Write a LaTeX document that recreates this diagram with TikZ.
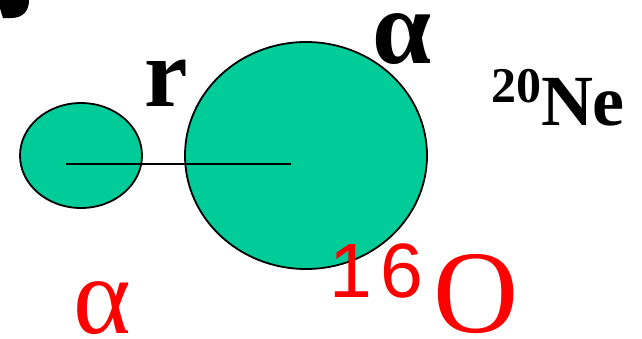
\documentclass[tikz,border=0pt]{standalone}
\usepackage{fontspec}
\setmainfont{Liberation Serif}
\newfontfamily\arialfont{Liberation Sans}
\usetikzlibrary{shapes.geometric,positioning}
\definecolor{nucgreen}{RGB}{0,204,153}
\definecolor{labred}{RGB}{255,0,0}
\tikzset{
  nucleus/.style={ellipse, draw=black, line width=1.8pt, fill=nucgreen, inner sep=0pt},
  lbl/.style={anchor=base west, inner sep=0pt, outer sep=0pt}
}

\begin{document}
\begin{tikzpicture}[x=1pt, y=-1pt]
\useasboundingbox (0,0) rectangle (642,338);
% cut-off glyph in the corner
\fill (0,0) -- (29,0) .. controls (29,11) and (23,18) .. (11,18) -- (3,18) .. controls (1,12) .. (0,8) -- cycle;
% the two clusters
\node[nucleus, minimum width=242pt, minimum height=227pt] (oxy) at (306,155.5) {};
\node[nucleus, minimum width=122pt, minimum height=105pt] (alp) at (81,155.5) {};
\coordinate (alpc) at (66,164);
\coordinate (oxyc) at (291,164);
\draw[line width=2.2pt] (alpc) -- (oxyc);
% labels
\node[lbl] (rlbl) at (144,106) {\fontsize{98}{98}\selectfont\bfseries r};
\node[lbl] (alblack) at (372,63) {\fontsize{106}{106}\selectfont\bfseries α};
\node[lbl] (ne) at (491,125) {\bfseries\raisebox{23pt}{\fontsize{50}{50}\selectfont 20}\fontsize{72}{72}\selectfont Ne};
\node[lbl, text=labred] (alred) at (73,333) {\fontsize{110}{110}\selectfont α};
\node[lbl, text=labred] (oxlbl) at (329,332) {\raisebox{35pt}{\arialfont\fontsize{77}{77}\selectfont 1\hspace{9pt}6}\hspace{10pt}\fontsize{118}{118}\selectfont O};
\end{tikzpicture}
\end{document}
